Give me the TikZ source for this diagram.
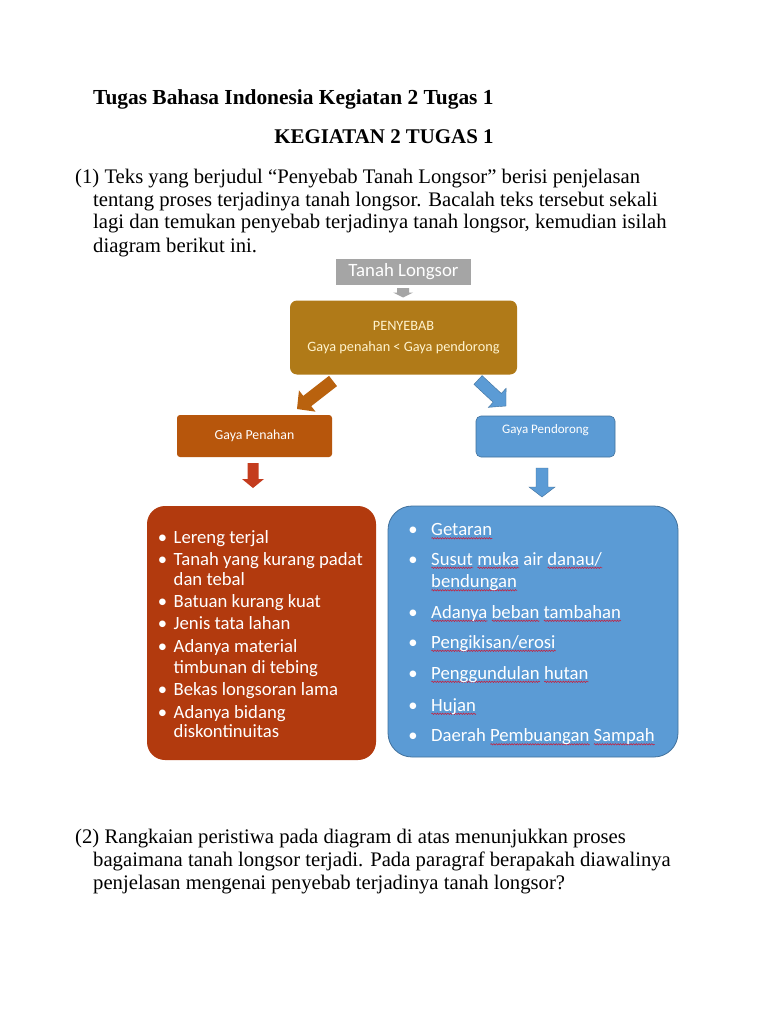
\documentclass[tikz,border=0pt]{standalone}
\usepackage{fontspec}
\setmainfont{Liberation Serif}
\newfontfamily\calfont{Carlito}
\usetikzlibrary{calc,decorations.pathmorphing}
\definecolor{tlgray}{RGB}{165,165,165}
\definecolor{peny}{RGB}{176,122,24}
\definecolor{penytext}{RGB}{255,243,205}
\definecolor{penah}{RGB}{183,86,12}
\definecolor{brownar}{RGB}{185,98,14}
\definecolor{redar}{RGB}{196,60,30}
\definecolor{lbox}{RGB}{178,58,14}
\definecolor{blu}{RGB}{91,155,213}
\definecolor{bluedge}{RGB}{65,113,156}
\definecolor{wavered}{RGB}{200,30,60}
\newsavebox\rwbox
\newdimen\rwd
\newcommand\rw[1]{\leavevmode\sbox\rwbox{#1}\rwd=\wd\rwbox
  \rlap{\smash{\tikz[baseline=0pt,x=1pt,y=1pt]\draw[wavered,line width=0.55pt,decorate,
    decoration={snake,amplitude=0.7pt,segment length=2.6pt}] (0,-2.8) -- (\the\rwd,-2.8);}}\usebox\rwbox}
% block arrow: from, to, shaft half width, head half width, head length, colour style
\newcommand\blockarrow[6]{%
  \coordinate (bah) at ($(#2)!#5!(#1)$);
  \path[#6] ($(#1)!#3!90:(#2)$) -- ($(bah)!#3!-90:(#1)$) -- ($(bah)!#4!-90:(#1)$)
    -- (#2) -- ($(bah)!#4!90:(#1)$) -- ($(bah)!#3!90:(#1)$) -- ($(#1)!#3!-90:(#2)$) -- cycle;}
\begin{document}
\begin{tikzpicture}[x=1pt,y=-1pt,
  body/.style={anchor=base west,inner sep=0pt,font=\fontsize{20.7}{23}\selectfont},
  ttl/.style={anchor=base west,inner sep=0pt,font=\fontsize{21.4}{23}\selectfont\bfseries},
  kgl/.style={anchor=base,inner sep=0pt,font=\fontsize{20.9}{23}\selectfont\bfseries},
  ltxt/.style={anchor=base west,inner sep=0pt,text=white,font=\calfont\fontsize{18.7}{21}\selectfont},
  rtxt/.style={anchor=base west,inner sep=0pt,text=white,font=\calfont\fontsize{18.7}{21}\selectfont},
  bul/.style={anchor=base,inner sep=0pt,text=white,font=\calfont\fontsize{18.6}{21}\selectfont},
  flat/.style={inner sep=0pt,draw=none}]
\useasboundingbox[fill=white] (0,0) rectangle (768,1024);

% ---- text above ----
\node[ttl] (title) at (93,105) {Tugas Bahasa Indonesia Kegiatan 2 Tugas 1};
\node[kgl] (keg) at (384,144) {KEGIATAN 2 TUGAS 1};
\node[body] (p1a) at (75,184) {(1) Teks yang berjudul “Penyebab Tanah Longsor” berisi penjelasan};
\node[body] (p1b) at (93,207) {tentang proses terjadinya tanah longsor. Bacalah teks tersebut sekali};
\node[body] (p1c) at (93,229) {lagi dan temukan penyebab terjadinya tanah longsor, kemudian isilah};
\node[body] (p1d) at (93,252) {diagram berikut ini.};
\node[body] (p2a) at (75,843) {(2) Rangkaian peristiwa pada diagram di atas menunjukkan proses};
\node[body] (p2b) at (93,866) {bagaimana tanah longsor terjadi. Pada paragraf berapakah diawalinya};
\node[body] (p2c) at (93,889) {penjelasan mengenai penyebab terjadinya tanah longsor?};

% ---- diagram boxes ----
\node[flat,fill=tlgray,minimum width=135pt,minimum height=26pt,text=white,
      font=\calfont\fontsize{18.8}{20}\selectfont] (tl) at (403.5,272) {Tanah Longsor};
\node[flat,fill=peny,rounded corners=7pt,minimum width=227pt,minimum height=74pt,
      text=penytext,align=center,font=\calfont\fontsize{14.3}{21}\selectfont] (pen) at (403.5,337.5)
      {PENYEBAB\\Gaya penahan < Gaya pendorong};
\node[flat,fill=penah,rounded corners=3pt,minimum width=155pt,minimum height=42pt,
      text=white,font=\calfont\fontsize{13.8}{15}\selectfont] (gph) at (254.5,436) {Gaya Penahan};
\node[flat,fill=blu,draw=bluedge,line width=0.6pt,rounded corners=5pt,minimum width=139pt,minimum height=41pt] (gpd) at (545.5,436.5) {};
\node[inner sep=0pt,text=white,font=\calfont\fontsize{13}{15}\selectfont] (gpdt) at (545.5,430) {Gaya Pendorong};
\node[flat,fill=lbox,rounded corners=18pt,minimum width=229pt,minimum height=254pt] (lb) at (261.5,633) {};
\node[flat,fill=blu,draw=bluedge,line width=0.8pt,rounded corners=24pt,minimum width=290pt,minimum height=251pt] (rb) at (533,631.5) {};

% ---- block arrows ----
\coordinate (a0s) at (403,288); \coordinate (a0e) at (403,297.5);
\coordinate (a1s) at (333,381); \coordinate (a1e) at (297,409);
\coordinate (a2s) at (478,380); \coordinate (a2e) at (506,406);
\coordinate (a3s) at (253,463); \coordinate (a3e) at (253,488);
\coordinate (a4s) at (542,468); \coordinate (a4e) at (542,497);
\blockarrow{a0s}{a0e}{6pt}{10pt}{5pt}{fill=tlgray}
\blockarrow{a1s}{a1e}{6.5pt}{13.5pt}{13pt}{fill=brownar}
\blockarrow{a2s}{a2e}{6pt}{13pt}{12pt}{fill=blu,draw=bluedge,line width=0.4pt}
\blockarrow{a3s}{a3e}{5.5pt}{11pt}{9pt}{fill=redar}
\blockarrow{a4s}{a4e}{6pt}{13pt}{10pt}{fill=blu,draw=bluedge,line width=0.4pt}

% ---- left list ----
\foreach \y [count=\i] in {543,565,607,629,652,695,718}
  \node[bul] (lbul\i) at (162.5,\y) {•};
\node[ltxt] (l1) at (173.5,543) {Lereng terjal};
\node[ltxt] (l2) at (173.5,565) {Tanah yang kurang padat};
\node[ltxt] (l3) at (173.5,585) {dan tebal};
\node[ltxt] (l4) at (173.5,607) {Batuan kurang kuat};
\node[ltxt] (l5) at (173.5,629) {Jenis tata lahan};
\node[ltxt] (l6) at (173.5,652) {Adanya material};
\node[ltxt] (l7) at (173.5,673) {timbunan di tebing};
\node[ltxt] (l8) at (173.5,695) {Bekas longsoran lama};
\node[ltxt] (l9) at (173.5,718) {Adanya bidang};
\node[ltxt] (l10) at (173.5,737) {diskontinuitas};

% ---- right list ----
\foreach \y [count=\i] in {535.5,565,618,648,679,711,741.5}
  \node[bul] (rbul\i) at (413,\y) {•};
\node[rtxt] (r1) at (431,535.5) {\rw{Getaran}};
\node[rtxt] (r2) at (431,565) {\rw{Susut} \rw{muka} air \rw{danau/}};
\node[rtxt] (r3) at (431,587.5) {\rw{bendungan}};
\node[rtxt] (r4) at (431,618) {\rw{Adanya} \rw{beban} \rw{tambahan}};
\node[rtxt] (r5) at (431,648) {\rw{Pengikisan/erosi}};
\node[rtxt] (r6) at (431,679) {\rw{Penggundulan} \rw{hutan}};
\node[rtxt] (r7) at (431,711) {\rw{Hujan}};
\node[rtxt] (r8) at (431,741.5) {Daerah \rw{Pembuangan} \rw{Sampah}};
\end{tikzpicture}
\end{document}
